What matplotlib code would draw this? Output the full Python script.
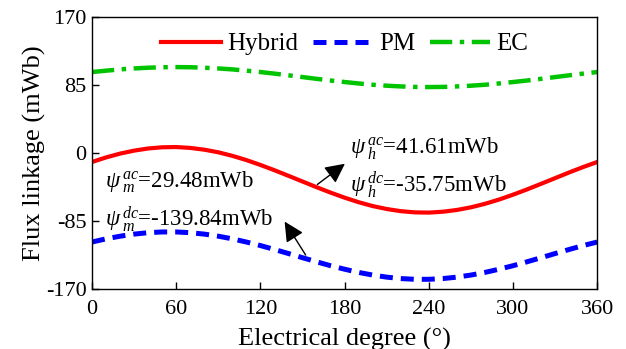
"""
Flux linkage of the hybrid, PM and EC excitation over one electrical period.
"""

import matplotlib
matplotlib.use("Agg")
import matplotlib.pyplot as plt

plt.rcParams["font.family"] = ["Liberation Serif", "DejaVu Serif"]
plt.rcParams["mathtext.fontset"] = "custom"
plt.rcParams["mathtext.rm"] = "Liberation Serif"
plt.rcParams["mathtext.it"] = "Liberation Serif:italic"
plt.rcParams["axes.unicode_minus"] = False

# Electrical angle (deg), readings every 10 degrees
angle = list(range(0, 361, 10))

# Values (mWb)
hybrid = [-11.2, -5.5, -0.7, 3.0, 5.7, 7.2, 7.5, 6.4, 4.2, 0.9,
          -3.5, -8.8, -14.9, -21.5, -28.5, -35.6, -42.7, -49.5, -55.8, -61.5,
          -66.3, -70.0, -72.7, -74.2, -74.5, -73.4, -71.2, -67.9, -63.5, -58.2,
          -52.1, -45.5, -38.5, -31.4, -24.3, -17.5, -11.2]
pm = [-111.3, -107.3, -104.0, -101.4, -99.6, -98.7, -98.7, -99.6, -101.4, -104.0,
      -107.3, -111.3, -115.7, -120.6, -125.7, -130.9, -136.0, -140.9, -145.3, -149.3,
      -152.6, -155.2, -157.0, -157.9, -157.9, -157.0, -155.2, -152.6, -149.3, -145.3,
      -140.9, -136.0, -130.9, -125.7, -120.6, -115.7, -111.3]
ec = [101.3, 103.0, 104.6, 105.8, 106.7, 107.3, 107.5, 107.3, 106.7, 105.8,
      104.6, 103.0, 101.3, 99.3, 97.2, 95.0, 92.8, 90.7, 88.8, 87.0,
      85.4, 84.2, 83.3, 82.7, 82.5, 82.7, 83.3, 84.2, 85.4, 87.0,
      88.8, 90.7, 92.8, 95.0, 97.2, 99.3, 101.3]

xticks = [0, 60, 120, 180, 240, 300, 360]
yticks = [-170, -85, 0, 85, 170]

fig = plt.figure(figsize=(6.26, 3.49), dpi=100)
ax = fig.add_axes([0.147, 0.172, 0.807, 0.779])

ax.plot(angle, hybrid, color="#FF0000", lw=3.0, label="Hybrid")
ax.plot(angle, pm, color="#0000FF", lw=3.6, dashes=(2.6, 1.6), label="PM")
ax.plot(angle, ec, color="#00C400", lw=3.2,
        dashes=(5.0, 1.7, 1.0, 1.7), label="EC")

ax.set_xlim(0, 360)
ax.set_ylim(-170, 170)
ax.set_xticks(xticks)
ax.set_xticklabels([str(t) for t in xticks])
ax.set_yticks(yticks)
ax.set_yticklabels([str(t) for t in yticks])
ax.tick_params(direction="in", length=5, width=1, labelsize=16,
               top=False, right=False)
ax.tick_params(axis="x", pad=8)
ax.tick_params(axis="y", pad=4)
for s in ax.spines.values():
    s.set_linewidth(1.0)

ax.set_xlabel("Electrical degree (°)", fontsize=19, labelpad=6)
ax.set_ylabel("Flux linkage (mWb)", fontsize=19, labelpad=0)

ax.legend(loc="upper center", ncol=3, frameon=False, fontsize=18,
          handlelength=2.4, handletextpad=0.25, columnspacing=0.6,
          bbox_to_anchor=(0.5, 1.025))

# Annotations
ax.text(184, 5, r"$\psi\,{}_h^{ac}$=41.61mWb", fontsize=16.5, va="center")
ax.text(184, -40, r"$\psi\,{}_h^{dc}$=-35.75mWb", fontsize=16.5, va="center")
ax.text(9.3, -36.5, r"$\psi\,{}_m^{ac}$=29.48mWb", fontsize=16.5, va="center")
ax.text(9.3, -83, r"$\psi\,{}_m^{dc}$=-139.84mWb", fontsize=16.5, va="center")

arrow = dict(arrowstyle="-|>", color="k", lw=1.0, mutation_scale=30)
ax.annotate("", xy=(181.8, -11.3), xytext=(159, -41.4), arrowprops=arrow)
ax.annotate("", xy=(136.2, -82.8), xytext=(153.3, -130.5), arrowprops=arrow)

fig.savefig("out.png", dpi=100)
